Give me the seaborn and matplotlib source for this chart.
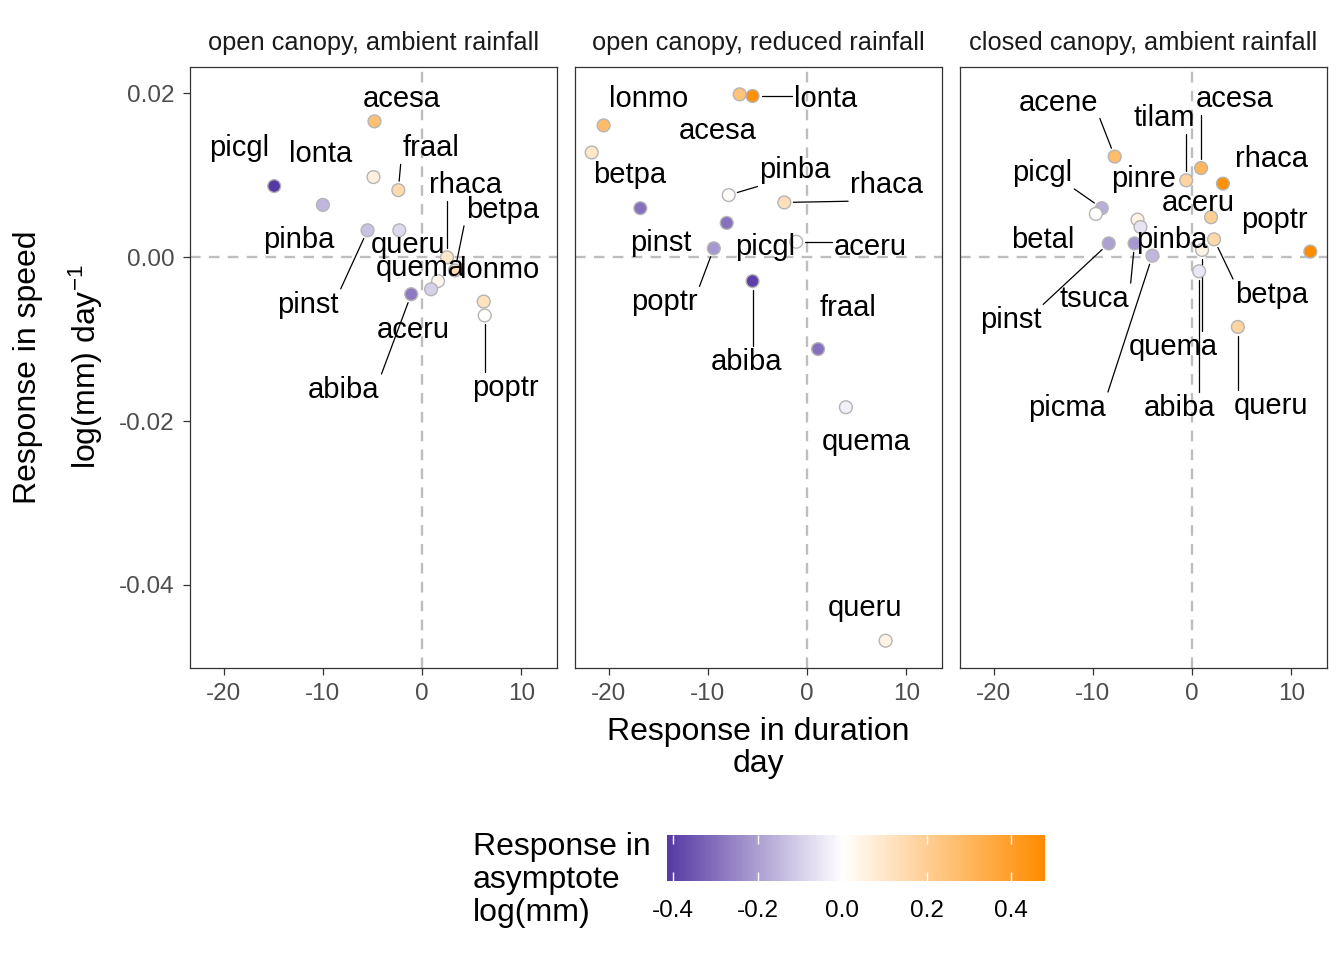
import numpy as np
import pandas as pd
import seaborn as sns
import matplotlib.pyplot as plt
from matplotlib.colors import LinearSegmentedColormap, Normalize

panels = ['open canopy, ambient rainfall', 'open canopy, reduced rainfall',
          'closed canopy, ambient rainfall']

# open canopy, ambient rainfall
sp_oa = ['acesa', 'picgl', 'lonta', 'fraal', 'pinba', 'pinst', 'queru', 'rhaca',
         'betpa', 'quema', 'aceru', 'abiba', 'lonmo', 'poptr']
dur_oa = [-4.8, -14.9, -4.9, -2.4, -10.0, -5.5, -2.3, 2.5, 3.3, 1.6, 0.9, -1.1, 6.2, 6.3]
spd_oa = [0.0166, 0.0087, 0.0098, 0.0082, 0.0064, 0.0033, 0.0033, 0.0000,
          -0.0016, -0.0029, -0.0039, -0.0045, -0.0054, -0.0071]
asy_oa = [0.26, -0.415, 0.06, 0.15, -0.15, -0.13, -0.08, 0.10, 0.14, 0.03, -0.10, -0.28, 0.12, 0.0]

# open canopy, reduced rainfall
sp_or = ['lonmo', 'lonta', 'acesa', 'betpa', 'pinba', 'rhaca', 'pinst', 'picgl',
         'aceru', 'poptr', 'abiba', 'fraal', 'quema', 'queru']
dur_or = [-20.5, -5.5, -6.8, -21.7, -7.9, -2.3, -16.8, -8.1, -1.1, -9.4, -5.5, 1.1, 3.9, 7.9]
spd_or = [0.0161, 0.0197, 0.0199, 0.0128, 0.0076, 0.0067, 0.0060, 0.0042,
          0.0019, 0.0011, -0.0029, -0.0112, -0.0183, -0.0468]
asy_or = [0.28, 0.46, 0.25, 0.10, 0.01, 0.13, -0.30, -0.30, 0.0, -0.22, -0.40, -0.30, -0.03, 0.05]

# closed canopy, ambient rainfall
sp_ca = ['acene', 'tilam', 'acesa', 'rhaca', 'picgl', 'pinre', 'aceru', 'poptr', 'betal',
         'pinba', 'betpa', 'pinst', 'tsuca', 'quema', 'picma', 'abiba', 'queru']
dur_ca = [-7.8, -0.6, 0.9, 3.1, -9.1, -5.5, 1.9, 11.9, -9.7, -5.2, 2.2, -8.4, -5.8, 1.0,
          -4.0, 0.7, 4.6]
spd_ca = [0.0123, 0.0094, 0.0109, 0.0090, 0.0060, 0.0046, 0.0049, 0.0007, 0.0053,
          0.0037, 0.0022, 0.0017, 0.0017, 0.0009, 0.0002, -0.0017, -0.0085]
asy_ca = [0.28, 0.18, 0.30, 0.46, -0.17, 0.05, 0.20, 0.48, 0.0, -0.06, 0.16, -0.20,
          -0.22, 0.05, -0.15, -0.05, 0.18]

# where the repelled labels ended up (data units) and which ones got a segment
lab_pos = {
    panels[0]: {'acesa': (-2.1, 0.0193), 'picgl': (-18.4, 0.0133), 'lonta': (-10.2, 0.0126),
                'fraal': (0.9, 0.0133), 'rhaca': (4.4, 0.0088), 'betpa': (8.1, 0.0058),
                'pinba': (-12.4, 0.0021), 'queru': (-1.4, 0.0015), 'quema': (-0.2, -0.0013),
                'lonmo': (7.8, -0.0016), 'pinst': (-11.5, -0.0058), 'aceru': (-0.9, -0.0089),
                'abiba': (-7.9, -0.0162), 'poptr': (8.4, -0.0159)},
    panels[1]: {'lonmo': (-16.0, 0.0193), 'lonta': (1.9, 0.0193), 'acesa': (-9.0, 0.0154),
                'betpa': (-17.9, 0.0100), 'pinba': (-1.2, 0.0106), 'rhaca': (8.0, 0.0088),
                'pinst': (-14.7, 0.0017), 'picgl': (-4.2, 0.0012), 'aceru': (6.4, 0.0013),
                'poptr': (-14.4, -0.0055), 'abiba': (-6.1, -0.0128), 'fraal': (4.1, -0.0062),
                'quema': (6.0, -0.0226), 'queru': (5.8, -0.0428)},
    panels[2]: {'acene': (-13.5, 0.0189), 'tilam': (-2.8, 0.0170), 'acesa': (4.3, 0.0193),
                'rhaca': (8.0, 0.0120), 'picgl': (-15.1, 0.0103), 'pinre': (-4.9, 0.0096),
                'aceru': (0.6, 0.0066), 'poptr': (8.3, 0.0046), 'betal': (-15.0, 0.0021),
                'pinba': (-2.1, 0.0021), 'betpa': (8.0, -0.0046), 'pinst': (-18.3, -0.0077),
                'tsuca': (-9.9, -0.0051), 'quema': (-1.9, -0.0109), 'picma': (-12.6, -0.0184),
                'abiba': (-1.3, -0.0184), 'queru': (7.9, -0.0181)},
}
lab_seg = {
    panels[0]: {'fraal', 'rhaca', 'betpa', 'pinst', 'abiba', 'poptr'},
    panels[1]: {'lonta', 'pinba', 'rhaca', 'aceru', 'poptr', 'abiba'},
    panels[2]: {'acene', 'tilam', 'acesa', 'picgl', 'pinst', 'tsuca', 'quema', 'picma',
                'abiba', 'queru', 'betpa'},
}

sns.set_style('white')
plt.rcParams['font.family'] = ['Liberation Sans', 'DejaVu Sans']
plt.rcParams['axes.unicode_minus'] = False
plt.rcParams['mathtext.fontset'] = 'custom'
plt.rcParams['mathtext.rm'] = 'Liberation Sans'
plt.rcParams['mathtext.it'] = 'Liberation Sans:italic'

df = pd.concat([
    pd.DataFrame({'panel': panels[0], 'species': sp_oa, 'duration': dur_oa, 'speed': spd_oa, 'asym': asy_oa}),
    pd.DataFrame({'panel': panels[1], 'species': sp_or, 'duration': dur_or, 'speed': spd_or, 'asym': asy_or}),
    pd.DataFrame({'panel': panels[2], 'species': sp_ca, 'duration': dur_ca, 'speed': spd_ca, 'asym': asy_ca}),
], ignore_index=True)

# gradient2 style: white in the middle, symmetric around 0
cmin, cmax = df['asym'].min(), df['asym'].max()
lim = max(abs(cmin), abs(cmax))
cmap = LinearSegmentedColormap.from_list('gr2', ['#3b1c96', 'white', 'darkorange'])
norm = Normalize(-lim, lim)

g = sns.FacetGrid(df, col='panel', col_order=panels, height=9.6, aspect=13.44 / 9.6 / 3,
                  despine=False, sharex=True, sharey=True)
g.map_dataframe(sns.scatterplot, x='duration', y='speed', hue='asym', palette=cmap,
                hue_norm=norm, s=85, edgecolor='#B5B5B5', linewidth=1, legend=False, zorder=3)
g.set_titles('{col_name}', size=18.3, color='#1A1A1A', pad=12)
g.set_axis_labels('', '')
fig = g.figure
fig.set_dpi(100)
fig.subplots_adjust(left=190 / 1344, right=1327 / 1344, bottom=1 - 668 / 960,
                    top=1 - 67 / 960, wspace=18 / 367)

ax0 = g.axes.flat[0]
xl, yl = ax0.get_xlim(), ax0.get_ylim()
for i, ax in enumerate(g.axes.flat):
    ax.set_xlim(xl)
    ax.set_ylim(yl)
    ax.set_xticks([-20, -10, 0, 10])
    ax.set_yticks([-0.04, -0.02, 0.0, 0.02])
    ax.yaxis.set_major_formatter(plt.FormatStrFormatter('%.2f'))
    ax.axhline(0, color='#BEBEBE', lw=1.7, ls=(0, (4.5, 3.5)), zorder=1)
    ax.axvline(0, color='#BEBEBE', lw=1.7, ls=(0, (4.5, 3.5)), zorder=1)
    for s in ax.spines.values():
        s.set_color('#333333')
        s.set_linewidth(0.9)
    ax.tick_params(length=5, width=0.9, color='#333333', labelsize=17.5,
                   labelcolor='#4D4D4D', pad=6, bottom=True)
    if i > 0:
        ax.tick_params(axis='y', left=False, labelleft=False)
    else:
        ax.tick_params(axis='y', left=True)
    ax.grid(False)

# labels + segments
texts = []
for ax, name in zip(g.axes.flat, panels):
    sub = df[df['panel'] == name].set_index('species')
    for sp, (lx, ly) in lab_pos[name].items():
        t = ax.text(lx, ly, sp, ha='center', va='center', fontsize=21, color='black', zorder=4)
        texts.append((ax, t, sp, sub.loc[sp, 'duration'], sub.loc[sp, 'speed'], sp in lab_seg[name]))

fig.canvas.draw()
r = fig.canvas.get_renderer()
for ax, t, sp, px, py, seg in texts:
    if not seg:
        continue
    bb = t.get_window_extent(r)
    p = ax.transData.transform((px, py))
    q = np.array([np.clip(p[0], bb.x0 - 2, bb.x1 + 2), np.clip(p[1], bb.y0 - 2, bb.y1 + 2)])
    d = q - p
    L = np.hypot(*d)
    if L < 14:
        continue
    e = p + d / L * 9
    inv = ax.transData.inverted()
    a, b = inv.transform(q), inv.transform(e)
    ax.plot([a[0], b[0]], [a[1], b[1]], color='black', lw=0.9, zorder=2)

# axis titles
fig.text(758.5 / 1344, 1 - 748 / 960, 'Response in duration\nday', ha='center', va='center',
         fontsize=23, linespacing=1.12, color='black')
fig.text(28 / 1344, 1 - 367 / 960, 'Response in speed', rotation=90, ha='center',
         va='center', fontsize=23, color='black')
fig.text(86 / 1344, 1 - 367 / 960, r'log(mm) day$^{-1}$', rotation=90, ha='center',
         va='center', fontsize=23, color='black')

# colour bar legend
cax = fig.add_axes([667 / 1344, 1 - 881 / 960, 378 / 1344, 46 / 960])
grad = np.linspace(cmin, cmax, 300)
cax.imshow(grad[None, :], cmap=cmap, norm=norm, extent=[cmin, cmax, 0, 1], aspect='auto')
cax.set_xlim(cmin, cmax)
cax.set_ylim(0, 1)
ticks = [-0.4, -0.2, 0.0, 0.2, 0.4]
cax.vlines(ticks, 0, 0.2, color='white', lw=1)
cax.vlines(ticks, 0.8, 1, color='white', lw=1)
cax.set_xticks(ticks)
cax.set_xticklabels([f'{v:.1f}' for v in ticks])
cax.set_yticks([])
cax.tick_params(axis='x', length=0, labelsize=17.5, labelcolor='black', pad=14)
for s in cax.spines.values():
    s.set_visible(False)
fig.text(473 / 1344, 1 - 880 / 960, 'Response in\nasymptote\nlog(mm)', ha='left',
         va='center', fontsize=23, linespacing=1.12, color='black')

fig.savefig('out.png', dpi=100)
